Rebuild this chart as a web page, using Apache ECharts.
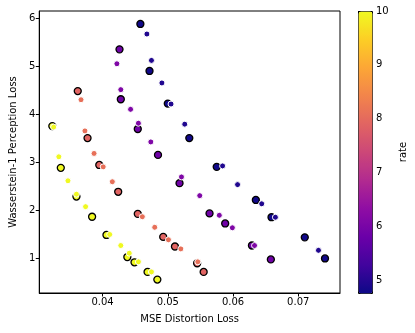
<!DOCTYPE html>
<html>
<head>
<meta charset="utf-8">
<script src="https://cdn.jsdelivr.net/npm/echarts@6/dist/echarts.min.js"></script>
<style>
  html, body { margin: 0; padding: 0; background: #fff; }
  #chart { width: 415px; height: 333px; }
</style>
</head>
<body>
<div id="chart"></div>
<script>
// tick labels
const xTicks = [0.04, 0.05, 0.06, 0.07];
const yTicks = [1, 2, 3, 4, 5, 6];
const rateTicks = [5, 6, 7, 8, 9, 10];

// big markers (black edge)
const bigMse = [
  0.0458, 0.0472, 0.0500, 0.0533, 0.0575, 0.0635, 0.0659, 0.0710, 0.0741,
  0.0426, 0.0428, 0.0454, 0.0485, 0.0518, 0.0564, 0.0588, 0.0629, 0.0658,
  0.0362, 0.0377, 0.0395, 0.0424, 0.0454, 0.0493, 0.0511, 0.0545, 0.0555,
  0.0323, 0.0336, 0.0360, 0.0384, 0.0406, 0.0438, 0.0449, 0.0469, 0.0484
];
const bigPerc = [
  5.88, 4.90, 4.22, 3.50, 2.90, 2.21, 1.85, 1.43, 0.99,
  5.35, 4.31, 3.69, 3.15, 2.56, 1.93, 1.72, 1.26, 0.97,
  4.48, 3.50, 2.94, 2.38, 1.92, 1.44, 1.24, 0.89, 0.71,
  3.75, 2.88, 2.28, 1.86, 1.48, 1.02, 0.91, 0.71, 0.55
];
const bigRate = [
  4.8, 4.8, 4.8, 4.8, 4.8, 4.8, 4.8, 4.8, 4.8,
  5.9, 5.9, 5.9, 5.9, 5.9, 5.9, 5.9, 5.9, 5.9,
  7.9, 7.9, 7.9, 7.9, 7.9, 7.9, 7.9, 7.9, 7.9,
  10, 10, 10, 10, 10, 10, 10, 10, 10
];

// small markers (white edge)
const smallMse = [
  0.0468, 0.0475, 0.0491, 0.0505, 0.0526, 0.0584, 0.0607, 0.0644, 0.0665, 0.0731,
  0.0422, 0.0428, 0.0443, 0.0455, 0.0474, 0.0521, 0.0549, 0.0579, 0.0599, 0.0633,
  0.0367, 0.0373, 0.0387, 0.0401, 0.0415, 0.0461, 0.0480, 0.0501, 0.0520, 0.0546,
  0.0325, 0.0333, 0.0347, 0.0360, 0.0374, 0.0411, 0.0428, 0.0441, 0.0455, 0.0475
];
const smallPerc = [
  5.67, 5.12, 4.65, 4.21, 3.79, 2.92, 2.53, 2.13, 1.85, 1.16,
  5.05, 4.51, 4.10, 3.81, 3.42, 2.69, 2.30, 1.89, 1.63, 1.26,
  4.30, 3.65, 3.18, 2.90, 2.59, 1.86, 1.64, 1.38, 1.19, 0.92,
  3.73, 3.11, 2.61, 2.33, 2.07, 1.49, 1.26, 1.10, 0.92, 0.71
];
const smallRate = [
  4.95, 4.95, 4.95, 4.95, 4.95, 4.95, 4.95, 4.95, 4.95, 4.95,
  6.1, 6.1, 6.1, 6.1, 6.1, 6.1, 6.1, 6.1, 6.1, 6.1,
  8.1, 8.1, 8.1, 8.1, 8.1, 8.1, 8.1, 8.1, 8.1, 8.1,
  10, 10, 10, 10, 10, 10, 10, 10, 10, 10
];

const plasma = ['#0d0887', '#41049d', '#6a00a8', '#8f0da4', '#b12a90', '#cc4778',
  '#e16462', '#f2844b', '#fca636', '#fcce25', '#f0f921'];

const rateMin = 4.76, rateMax = 10;

function zip(xs, ys, rs) {
  return xs.map((x, i) => [x, ys[i], rs[i]]);
}

const font = 'DejaVu Sans';
const axisLine = { show: true, onZero: false, lineStyle: { color: '#000', width: 1 } };

const myChart = echarts.init(document.getElementById('chart'));
myChart.setOption({
  animation: false,
  textStyle: { fontFamily: font, color: '#000' },
  grid: [
    { left: 36, top: 11, width: 304, height: 282, show: true, borderColor: '#000', borderWidth: 1, backgroundColor: 'transparent' },
    { left: 358, top: 11, width: 14, height: 282, show: false }
  ],
  xAxis: [
    {
      gridIndex: 0, type: 'value', min: 0.0303, max: 0.0764,
      name: 'MSE Distortion Loss', nameLocation: 'middle', nameGap: 21,
      nameTextStyle: { fontSize: 10, color: '#000', fontFamily: font },
      axisLine: axisLine,
      axisTick: { show: true, inside: false, length: 3.5, customValues: xTicks, lineStyle: { color: '#000' } },
      axisLabel: { fontSize: 10, color: '#000', margin: 4, customValues: xTicks, formatter: v => v.toFixed(2) },
      splitLine: { show: false }
    },
    { gridIndex: 1, type: 'value', min: 0, max: 1, show: false }
  ],
  yAxis: [
    {
      gridIndex: 0, type: 'value', min: 0.27, max: 6.15,
      name: 'Wasserstein-1 Perception Loss', nameLocation: 'middle', nameGap: 18,
      nameTextStyle: { fontSize: 10, color: '#000', fontFamily: font },
      axisLine: axisLine,
      axisTick: { show: true, inside: false, length: 3.5, customValues: yTicks, lineStyle: { color: '#000' } },
      axisLabel: { fontSize: 10, color: '#000', margin: 4, customValues: yTicks },
      splitLine: { show: false }
    },
    {
      gridIndex: 1, type: 'value', min: rateMin, max: rateMax, position: 'right',
      name: 'rate', nameLocation: 'middle', nameGap: 26, nameRotate: 90,
      nameTextStyle: { fontSize: 10, color: '#000', fontFamily: font },
      axisLine: { show: false },
      axisTick: { show: true, inside: false, length: 3.5, customValues: rateTicks, lineStyle: { color: '#000' } },
      axisLabel: { fontSize: 10, color: '#000', margin: 4, customValues: rateTicks },
      splitLine: { show: false }
    }
  ],
  visualMap: {
    type: 'continuous', min: rateMin, max: rateMax, dimension: 2, seriesIndex: [0, 1],
    calculable: false, showLabel: false, text: null,
    left: 358, top: 11, itemWidth: 14, itemHeight: 282, padding: 0,
    borderColor: '#000', borderWidth: 1,
    inRange: { color: plasma }
  },
  series: [
    {
      type: 'scatter', xAxisIndex: 0, yAxisIndex: 0, z: 2,
      symbolSize: 7, data: zip(bigMse, bigPerc, bigRate),
      itemStyle: { borderColor: '#000', borderWidth: 1.3, opacity: 1 }
    },
    {
      type: 'scatter', xAxisIndex: 0, yAxisIndex: 0, z: 3,
      symbolSize: 6, data: zip(smallMse, smallPerc, smallRate),
      itemStyle: { borderColor: '#fff', borderWidth: 1, opacity: 1 }
    }
  ]
});
</script>
</body>
</html>
